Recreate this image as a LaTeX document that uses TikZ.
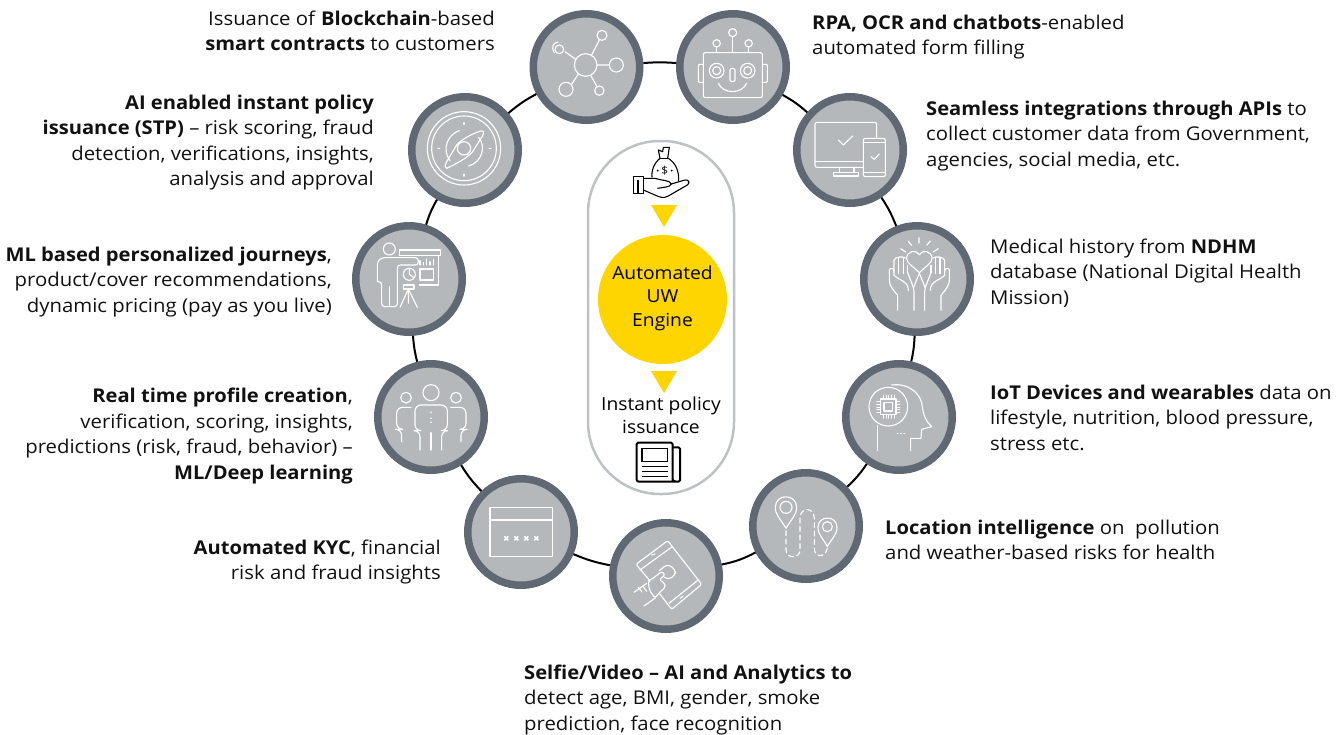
\documentclass[tikz,border=0pt]{standalone}
\usepackage{fontspec}
\setmainfont{Open Sans}[FakeStretch=1.07,BoldFeatures={FakeStretch=1.06}]
\usetikzlibrary{shapes.geometric}
\definecolor{ringc}{HTML}{5F6873}
\definecolor{discc}{HTML}{B5B8BA}
\definecolor{pillc}{HTML}{BFC2C4}
\definecolor{ywc}{HTML}{FFD500}
\definecolor{txtc}{HTML}{111111}
\tikzset{
 disc/.style={circle,draw=ringc,fill=discc,line width=7.5pt,minimum size=106.5pt,inner sep=0pt},
 link/.style={draw=black,line width=2pt},
 ico/.style={draw=white,line width=1.1pt,line join=round,line cap=round},
 blk/.style={draw=black,line width=1.1pt,line join=round},
 lab/.style={font=\fontsize{19}{25.5}\selectfont,text=txtc,inner sep=0pt,execute at begin node=\strut,execute at end node=\strut},
 labr/.style={lab,anchor=east,align=right},
 labl/.style={lab,anchor=west,align=left},
 labc/.style={font=\fontsize{18}{23.5}\selectfont,text=black,align=center,inner sep=0pt,execute at begin node=\strut,execute at end node=\strut},
}
\newcommand{\handhalf}{%
 \draw[ico] (83,235) -- (83,190) .. controls (70,175) and (58,160) .. (58,145) -- (58,113) .. controls (62,105) and (72,110) .. (72,118);
 \draw[ico] (72,130) -- (72,85) .. controls (74,74) and (100,72) .. (106,78);
 \draw[ico] (86,78) -- (86,125) (100,78) -- (100,125) (113,100) -- (113,122);
 \draw[ico] (72,130) .. controls (85,145) and (115,145) .. (115,175);
 \draw[ico] (132,235) -- (132,180) .. controls (132,165) and (125,155) .. (113,122);
 \draw[ico] (132,165) .. controls (136,150) and (142,140) .. (148,124);
}
\begin{document}
\begin{tikzpicture}[x=1pt,y=-1pt]
\useasboundingbox (0,0) rectangle (1344,734);
% discs
\node[disc] (chain) at (586.5,67) {};
\node[disc] (robot) at (733,67) {};
\node[disc] (apis) at (850,150) {};
\node[disc] (heart) at (917,279) {};
\node[disc] (iot) at (899,417) {};
\node[disc] (loc) at (806,526) {};
\node[disc] (tab) at (666,576) {};
\node[disc] (kyc) at (521,532) {};
\node[disc] (ppl) at (431,417) {};
\node[disc] (pres) at (409,279) {};
\node[disc] (comp) at (465,150) {};
% connectors
\path[link] (chain) to[bend left=4] (robot);
\path[link] (robot) to[bend left=6] (apis);
\path[link] (apis) to[bend left=6] (heart);
\path[link] (heart) to[bend left=5] (iot);
\path[link] (iot) to[bend left=6] (loc);
\path[link] (loc) to[bend left=8] (tab);
\path[link] (tab) to[bend left=6] (kyc);
\path[link] (kyc) to[bend left=6] (ppl);
\path[link] (ppl) to[bend left=5] (pres);
\path[link] (pres) to[bend left=6] (comp);
\path[link] (comp) to[bend left=6] (chain);
% pill
\node[draw=pillc,line width=2.5pt,fill=white,rounded corners=72pt,minimum width=146pt,minimum height=353pt,inner sep=0pt] (pill) at (661,317.5) {};
\node[circle,fill=ywc,minimum size=129pt,inner sep=0pt,labc] (eng) at (662.5,299.5) {Automated\\UW\\Engine};
\path[fill=ywc] (651,205) -- (677,205) -- (664,227) -- cycle;
\path[fill=ywc] (651,371) -- (677,371) -- (664,393) -- cycle;
\node[labc] (inst) at (661,418.5) {Instant policy\\issuance};
% money icon
\begin{scope}[shift={(580,130)},scale=1/3]
 \draw[blk] (240,85) .. controls (222,100) and (214,118) .. (216,142);
 \draw[blk] (265,85) .. controls (285,98) and (298,120) .. (296,155);
 \draw[blk] (240,85) -- (265,85);
 \draw[blk] (240,85) -- (235,60) -- (248,65) -- (250,52) -- (268,52) -- (263,85);
 \node[inner sep=0pt,font=\fontsize{11}{11}\selectfont] (dol) at (254,122) {\$};
 \path[fill=black] (233,122) circle[radius=3] (275,122) circle[radius=3];
 \draw[blk] (160,140) rectangle (190,190);
 \path[fill=black] (172,150) rectangle (178,190);
 \draw[blk] (190,145) -- (225,145) .. controls (245,152) and (270,150) .. (274,162) .. controls (270,172) and (250,172) .. (232,175);
 \draw[blk] (270,163) -- (315,150) .. controls (328,148) and (330,160) .. (322,165) -- (265,198) .. controls (250,206) and (240,202) .. (225,195) -- (190,180);
\end{scope}
% newspaper
\begin{scope}[shift={(580,130)},scale=1/3]
 \draw[draw=black,line width=2pt,rounded corners=1.5pt] (278,952) -- (300,952) -- (300,1055) -- (180,1055) .. controls (172,1055) and (170,1050) .. (170,1045) -- (170,938) -- (278,938) -- (278,1045) .. controls (278,1052) and (285,1055) .. (290,1055);
 \draw[draw=black,line width=1.6pt] (186,955) rectangle (263,995);
 \draw[draw=black,line width=1.6pt] (186,1010) -- (263,1010) (186,1025) -- (263,1025) (186,1040) -- (263,1040);
\end{scope}
% chain icon
\begin{scope}[shift={(520,0)},scale=1/3]
 \draw[ico] (197,195) circle[radius=34];
 \draw[ico] (246,106) circle[radius=15];
 \draw[ico] (118,148) circle[radius=13];
 \draw[ico] (289,195) circle[radius=21];
 \draw[ico] (138,268) circle[radius=21];
 \draw[ico] (238,272) circle[radius=14];
 \draw[ico] (215,165) -- (238,120) (135,155) -- (167,178) (231,195) -- (268,195) (155,253) -- (175,222) (212,226) -- (230,258);
 \draw[ico] (103,158) .. controls (92,140) and (100,128) .. (114,126);
\end{scope}
% robot icon
\begin{scope}[shift={(520,0)},scale=1/3]
 \draw[ico,rounded corners=2pt] (550,158) rectangle (727,293);
 \draw[ico,rounded corners=1pt] (550,193) -- (535,193) -- (535,247) -- (550,247);
 \draw[ico,rounded corners=1pt] (727,193) -- (742,193) -- (742,247) -- (727,247);
 \draw[ico] (590,212) circle[radius=22] (590,212) circle[radius=12];
 \draw[ico] (683,212) circle[radius=22] (683,212) circle[radius=12];
 \draw[ico,rounded corners=1.5pt] (630,205) rectangle (645,245);
 \draw[ico] (595,250) .. controls (610,283) and (665,283) .. (680,250);
 \draw[ico] (638,98) circle[radius=12] (590,130) circle[radius=11] (686,130) circle[radius=11];
 \draw[ico] (638,110) -- (638,158) (590,141) -- (590,158) (686,141) -- (686,158);
\end{scope}
% api icon
\begin{scope}[shift={(810,90)},scale=1/3]
 \draw[ico,rounded corners=2pt] (160,232) -- (15,232) -- (15,97) -- (200,97) -- (200,145);
 \draw[ico] (15,215) -- (160,215);
 \draw[ico] (88,232) -- (88,247) (132,232) -- (132,247);
 \draw[ico] (70,247) rectangle (145,258);
 \draw[ico,rounded corners=2pt] (160,145) rectangle (226,260);
 \draw[ico] (160,158) -- (226,158) (160,247) -- (226,247);
 \draw[ico] (85,150) -- (100,165) -- (128,138);
 \draw[ico] (183,200) -- (193,208) -- (208,192);
\end{scope}
% heart icon
\begin{scope}[shift={(870,232)},scale=1/3]
 \draw[ico] (148,122) .. controls (125,100) and (110,92) .. (110,80) .. controls (110,55) and (140,52) .. (148,68) .. controls (156,52) and (186,55) .. (186,80) .. controls (186,92) and (171,100) .. (148,122) -- cycle;
 \draw[ico] (147,17) -- (147,33) (115,28) -- (125,40) (181,27) -- (170,40) (92,50) -- (107,60) (205,50) -- (190,60);
 \begin{scope}[shift={(0,0)}]\handhalf\end{scope}
 \begin{scope}[shift={(296pt,0)},xscale=-1]\handhalf\end{scope}
\end{scope}
% iot icon
\begin{scope}[shift={(810,90)},scale=1/3]
 \draw[ico] (235,950) circle[radius=58];
 \draw[ico] (212,927) rectangle (258,973);
 \draw[ico] (222,937) rectangle (248,963);
 \draw[ico,line width=.7pt] (220,915) -- (220,927) (228,915) -- (228,927) (236,915) -- (236,927) (244,915) -- (244,927) (252,915) -- (252,927)
  (220,973) -- (220,985) (228,973) -- (228,985) (236,973) -- (236,985) (244,973) -- (244,985) (252,973) -- (252,985)
  (200,935) -- (212,935) (200,943) -- (212,943) (200,951) -- (212,951) (200,959) -- (212,959) (200,967) -- (212,967)
  (258,935) -- (270,935) (258,943) -- (270,943) (258,951) -- (270,951) (258,959) -- (270,959) (258,967) -- (270,967);
 \draw[ico] (202,1007) -- (202,1082);
 \draw[ico] (245,885) .. controls (300,878) and (335,915) .. (337,950) .. controls (340,975) and (345,990) .. (365,1010) -- (335,1018) -- (333,1045) -- (302,1045) -- (302,1082);
 \draw[ico,line width=1.4pt] (262,1030) -- (264,1030) (272,1030) -- (274,1030) (282,1030) -- (284,1030);
\end{scope}
% location icon
\begin{scope}[shift={(455,465)},scale=1/3]
 \draw[ico] (993,190) .. controls (975,160) and (961,150) .. (961,127) .. controls (961,85) and (1025,85) .. (1025,127) .. controls (1025,150) and (1010,160) .. (993,190) -- cycle;
 \draw[ico] (993,127) circle[radius=18];
 \draw[ico] (1117,245) .. controls (1105,220) and (1089,210) .. (1089,187) .. controls (1089,150) and (1146,150) .. (1146,187) .. controls (1146,210) and (1130,220) .. (1117,245) -- cycle;
 \draw[ico] (1117,185) circle[radius=15];
 \draw[ico,dash pattern=on 5pt off 3.5pt] (993,197) -- (993,255) .. controls (993,282) and (1035,282) .. (1035,255) -- (1035,160) .. controls (1035,125) and (1078,125) .. (1078,160) -- (1078,250) .. controls (1078,278) and (1110,280) .. (1117,250);
\end{scope}
% tablet icon
\begin{scope}[shift={(620,530)},scale=1/3]
 \draw[ico,rounded corners=1.5pt] (88,150) -- (48,103) -- (143,32) -- (245,163) -- (155,238) -- (118,190);
 \draw[ico] (60,120) -- (157,50) (147,220) -- (232,152);
 \draw[ico] (95,75) -- (105,72) (180,205) -- (190,198);
 \draw[ico,rounded corners=4pt] (118,122) -- (142,102) -- (166,118) -- (166,136) -- (142,150) -- (134,142);
 \draw[ico,rounded corners=2pt] (85,152) -- (92,150) -- (126,124) -- (135,134) -- (118,150) -- (135,160) -- (136,172) -- (120,186) -- (105,204) -- (88,180) -- cycle;
 \draw[ico] (42,187) -- (80,160) (72,228) -- (107,203);
 \draw[ico] (55,172) -- (66,186) (68,168) -- (80,184);
\end{scope}
% kyc icon
\begin{scope}[shift={(455,465)},scale=1/3]
 \draw[ico] (105,127) rectangle (292,275);
 \draw[ico] (105,165) -- (292,165);
 \draw[ico,line width=1.5pt,line cap=butt] (148,214) -- (160,226) (160,214) -- (148,226)
  (178,214) -- (190,226) (190,214) -- (178,226)
  (208,214) -- (220,226) (220,214) -- (208,226)
  (238,214) -- (250,226) (250,214) -- (238,226);
\end{scope}
% people icon
\begin{scope}[shift={(385,370)},scale=1/3]
 \draw[ico] (138,68) circle[radius=24] (63,83) circle[radius=16] (213,83) circle[radius=16];
 \draw[ico,rounded corners=6pt] (105,240) -- (105,182) -- (90,182) -- (90,105) -- (187,105) -- (187,182) -- (170,182) -- (170,240);
 \draw[ico] (138,188) -- (138,240);
 \path[fill=white] (138,127) circle[radius=2.6] (138,145) circle[radius=2.6] (138,157) circle[radius=2.6];
 \draw[ico,rounded corners=6pt] (78,112) -- (35,112) -- (35,178) -- (50,178) -- (50,215);
 \draw[ico,rounded corners=6pt] (197,112) -- (243,112) -- (243,178) -- (228,178) -- (228,215);
\end{scope}
% presenter icon
\begin{scope}[shift={(340,90)},scale=1/3]
 \draw[ico] (148,477) circle[radius=18];
 \draw[ico] (178,480) rectangle (302,497);
 \draw[ico] (295,497) -- (295,585) -- (238,585);
 \draw[ico] (235,497) -- (178,497);
 \draw[ico,rounded corners=3pt] (112,575) -- (112,515) -- (125,503) -- (235,503) -- (235,525) -- (172,525) -- (172,650) -- (125,650) -- (125,575) -- (112,575);
 \draw[ico] (148,590) -- (148,650);
 \draw[ico] (208,553) circle[radius=18];
 \draw[ico] (208,553) -- (208,535) (208,553) -- (222,563);
 \draw[ico] (240,537) rectangle (280,570);
 \draw[ico] (240,525) -- (240,512) (250,525) -- (250,517) (260,525) -- (260,507) (270,525) -- (270,515) (280,525) -- (280,508);
 \draw[ico] (190,585) rectangle (222,597);
 \draw[ico] (205,597) -- (180,652) (205,597) -- (232,652) (205,597) -- (205,640);
\end{scope}
% compass icon
\begin{scope}[shift={(420,105)},scale=1/3]
 \draw[ico] (132,130) circle[radius=110] (132,130) circle[radius=97];
 \draw[ico] (118,77) .. controls (82,88) and (65,135) .. (90,167);
 \draw[ico] (146,183) .. controls (185,172) and (200,125) .. (176,97);
 \draw[ico] (80,190) .. controls (72,186) and (76,176) .. (80,170) -- (110,120) .. controls (125,102) and (160,85) .. (182,78) .. controls (192,76) and (192,84) .. (188,92) -- (158,140) .. controls (140,160) and (110,176) .. (80,190) -- cycle;
 \draw[ico] (132,130) circle[radius=20];
 \draw[ico,line width=1.5pt] (132,53) -- (132,58) (132,208) -- (132,213) (54,130) -- (59,130) (208,130) -- (213,130);
\end{scope}
% labels
\node[labr] (t1) at (495,34.5) {Issuance of \textbf{Blockchain}-based\\\textbf{smart contracts} to customers};
\node[labr] (t2) at (374,144) {\textbf{AI enabled instant policy}\\\textbf{issuance (STP)} – risk scoring, fraud\\detection, verifications, insights,\\analysis and approval};
\node[labr] (t3) at (332,283.5) {\textbf{ML based personalized journeys},\\product/cover recommendations,\\dynamic pricing (pay as you live)};
\node[labr] (t4) at (353,437.5) {\textbf{Real time profile creation},\\verification, scoring, insights,\\predictions (risk, fraud, behavior) –\\\textbf{ML/Deep learning}};
\node[labr] (t5) at (441,563.5) {\textbf{Automated KYC}, financial\\risk and fraud insights};
\node[labl] (t6) at (524,701.5) {\textbf{Selfie/Video – AI and Analytics to}\\detect age, BMI, gender, smoke\\prediction, face recognition};
\node[labl] (t7) at (885,543.5) {\textbf{Location intelligence} on\ \ pollution\\and weather-based risks for health};
\node[labl] (t8) at (990,421.5) {\textbf{IoT Devices and wearables} data on\\lifestyle, nutrition, blood pressure,\\stress etc.};
\node[labl] (t9) at (990,275.5) {Medical history from \textbf{NDHM}\\database (National Digital Health\\Mission)};
\node[labl] (t10) at (926,137.5) {\textbf{Seamless integrations through APIs} to\\collect customer data from Government,\\agencies, social media, etc.};
\node[labl] (t11) at (812,38.5) {\textbf{RPA, OCR and chatbots}-enabled\\automated form filling};
\end{tikzpicture}
\end{document}
